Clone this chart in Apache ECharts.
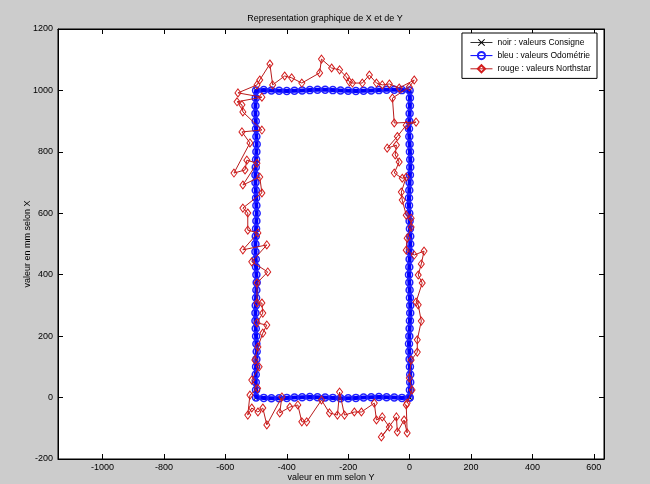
<!DOCTYPE html>
<html>
<head>
<meta charset="utf-8">
<script src="https://cdn.jsdelivr.net/npm/echarts@6/dist/echarts.min.js"></script>
<style>
html,body{margin:0;padding:0;background:#cccccc;}
#c{width:650px;height:484px;}
</style>
</head>
<body>
<div id="c"></div>
<script>
// Tick labels
const xTicks = [-1000,-800,-600,-400,-200,0,200,400,600];
const yTicks = [-200,0,200,400,600,800,1000,1200];

// Series names
const names = ['noir : valeurs Consigne','bleu : valeurs Odométrie','rouge : valeurs Northstar'];

// Consigne (black): [Y, X]
const consigne = [[0,0],[0,1000],[-500,1000],[-500,0],[0,0]];

// Odometrie (blue), per side: [Y, X]
const odoRight = [[0,0],[1,25],[2,50],[2,75],[1,100],[0,125],[-1,150],[-2,175],[-1,200],[0,225],[1,250],[2,275],[2,300],[1,325],[0,350],[-1,375],[-2,400],[-1,425],[0,450],[1,475],[2,500],[2,525],[1,550],[0,575],[-1,600],[-2,625],[-2,650],[-1,675],[0,700],[1,725],[2,750],[2,775],[1,800],[0,825],[-1,850],[-2,875],[-1,900],[0,925],[1,950],[1,975],[0,1000]];
const odoTop = [[-25,1001],[-50,1002],[-75,1002],[-100,1001],[-125,1000],[-150,999],[-175,998],[-200,999],[-225,1000],[-250,1001],[-275,1002],[-300,1002],[-325,1001],[-350,1000],[-375,999],[-400,998],[-425,999],[-450,1000],[-475,1001],[-500,1000]];
const odoLeft = [[-501,975],[-502,950],[-502,925],[-501,900],[-500,875],[-499,850],[-498,825],[-499,800],[-500,775],[-501,750],[-502,725],[-502,700],[-501,675],[-500,650],[-499,625],[-498,600],[-499,575],[-500,550],[-501,525],[-502,500],[-502,475],[-501,450],[-500,425],[-499,400],[-498,375],[-499,350],[-500,325],[-501,300],[-502,275],[-502,250],[-501,225],[-500,200],[-499,175],[-498,150],[-499,125],[-500,100],[-501,75],[-501,50],[-500,25],[-500,0]];
const odoBottom = [[-475,-1],[-450,-2],[-425,-2],[-400,-1],[-375,0],[-350,1],[-325,2],[-300,1],[-275,0],[-250,-1],[-225,-2],[-200,-2],[-175,-1],[-150,0],[-125,1],[-100,2],[-75,1],[-50,0],[-25,-1],[0,0]];

// Northstar (red), per side: [Y, X]
const nsRight = [[-8,-18],[8,25],[-1,64],[5,122],[25,148],[25,188],[38,249],[28,302],[21,311],[41,373],[28,399],[38,435],[47,477],[15,464],[-11,480],[-8,519],[5,555],[5,584],[-11,594],[-24,643],[-27,669],[-11,718],[-24,714],[-50,731],[-34,767],[-47,790],[-43,822],[-73,812],[-40,850],[-11,887],[21,897],[-50,894],[-56,975],[-1,1011],[15,1034]];
const nsTop = [[-34,1008],[-66,1021],[-89,1018],[-108,1024],[-131,1050],[-154,1024],[-186,1024],[-196,1028],[-206,1044],[-228,1067],[-254,1073],[-287,1102],[-293,1057],[-351,1024],[-384,1041],[-407,1047],[-446,1018],[-455,1086],[-488,1034],[-497,1018],[-559,992],[-481,978],[-562,963],[-546,953],[-543,930]];
const nsLeft = [[-481,871],[-546,865],[-520,829],[-572,731],[-536,741],[-530,773],[-497,763],[-543,692],[-488,718],[-481,666],[-543,617],[-527,601],[-527,545],[-494,536],[-543,481],[-465,497],[-514,442],[-462,409],[-497,373],[-497,308],[-481,308],[-478,275],[-497,243],[-465,236],[-478,210],[-494,165],[-504,122],[-490,100],[-514,57],[-495,30],[-520,8]];
const nsBottom = [[-527,-57],[-514,-34],[-494,-47],[-478,-34],[-465,-89],[-416,2],[-423,-50],[-390,-31],[-364,-24],[-351,-79],[-335,-79],[-287,-8],[-261,-50],[-235,-57],[-228,18],[-212,-57],[-180,-47],[-157,-47],[-115,-18],[-108,-73],[-89,-63],[-66,-96],[-92,-128],[-43,-63],[-40,-112],[-18,-73],[-8,-115],[-11,-24]];

const odometrie = odoRight.concat(odoTop, odoLeft, odoBottom);
const northstar = nsRight.concat(nsTop, nsLeft, nsBottom);

const FONT = '"Liberation Sans", Arial, sans-serif';
const crossPath = 'path://M0,1L1,0L5,4L9,0L10,1L6,5L10,9L9,10L5,6L1,10L0,9L4,5Z';
const plain = v => String(v);

const chart = echarts.init(document.getElementById('c'), null, {renderer:'canvas'});
const axisCommon = {
  type:'value',
  axisLine:{show:true, onZero:false, lineStyle:{color:'#000', width:1}},
  splitLine:{show:false}
};
chart.setOption({
  animation:false,
  backgroundColor:'#cccccc',
  title:{
    text:'Representation graphique de X et de Y',
    left:'center', top:14, padding:0,
    textStyle:{fontSize:9, fontWeight:'normal', color:'#000', fontFamily:FONT}
  },
  grid:{left:58, right:46, top:29, bottom:25, outerBoundsMode:'none', containLabel:false,
        show:true, backgroundColor:'#ffffff', borderColor:'#000', borderWidth:1},
  legend:{
    orient:'vertical', right:53, top:33,
    data:names,
    backgroundColor:'#ffffff', borderColor:'#000', borderWidth:1,
    padding:[5,6,5,8], itemGap:4, itemWidth:22, itemHeight:9,
    lineStyle:{width:1},
    textStyle:{fontSize:8.5, color:'#000', fontFamily:FONT}
  },
  xAxis:[
    Object.assign({}, axisCommon, {
      min:-1145, max:633, position:'bottom',
      axisTick:{show:true, inside:true, length:5, customValues:xTicks, lineStyle:{color:'#000'}},
      axisLabel:{customValues:xTicks, formatter:plain, color:'#000', fontSize:9, margin:4, fontFamily:FONT},
      name:'valeur en mm selon Y', nameLocation:'middle', nameGap:14, nameMoveOverlap:false,
      nameTextStyle:{fontSize:9, color:'#000', fontFamily:FONT}
    }),
    Object.assign({}, axisCommon, {
      min:-1145, max:633, position:'top',
      axisTick:{show:true, inside:true, length:5, customValues:xTicks, lineStyle:{color:'#000'}},
      axisLabel:{show:false}
    })
  ],
  yAxis:[
    Object.assign({}, axisCommon, {
      min:-200, max:1200, interval:200, position:'left',
      axisTick:{show:true, inside:true, length:5, lineStyle:{color:'#000'}},
      axisLabel:{formatter:plain, color:'#000', fontSize:9, margin:5, fontFamily:FONT},
      name:'valeur en mm selon X', nameLocation:'middle', nameGap:26, nameMoveOverlap:false,
      nameTextStyle:{fontSize:9, color:'#000', fontFamily:FONT}
    }),
    Object.assign({}, axisCommon, {
      min:-200, max:1200, interval:200, position:'right',
      axisTick:{show:true, inside:true, length:5, lineStyle:{color:'#000'}},
      axisLabel:{show:false}
    })
  ],
  series:[
    {
      name:names[0], type:'line', data:consigne, xAxisIndex:0, yAxisIndex:0,
      symbol:crossPath, symbolSize:6, showAllSymbol:true,
      lineStyle:{color:'#333333', width:1},
      itemStyle:{color:'#000000'},
      z:2
    },
    {
      name:names[1], type:'line', data:odometrie, xAxisIndex:0, yAxisIndex:0,
      symbol:'circle', symbolSize:7, showAllSymbol:true,
      lineStyle:{color:'#0000ff', width:4},
      itemStyle:{color:'rgba(0,0,0,0)', borderColor:'#2222ff', borderWidth:1.5},
      z:3
    },
    {
      name:names[2], type:'line', data:northstar, xAxisIndex:0, yAxisIndex:0,
      symbol:'diamond', symbolSize:[6,8], showAllSymbol:true,
      lineStyle:{color:'#b81c1c', width:1},
      itemStyle:{color:'rgba(0,0,0,0)', borderColor:'#d41c1c', borderWidth:1},
      z:4
    }
  ]
});
</script>
</body>
</html>
